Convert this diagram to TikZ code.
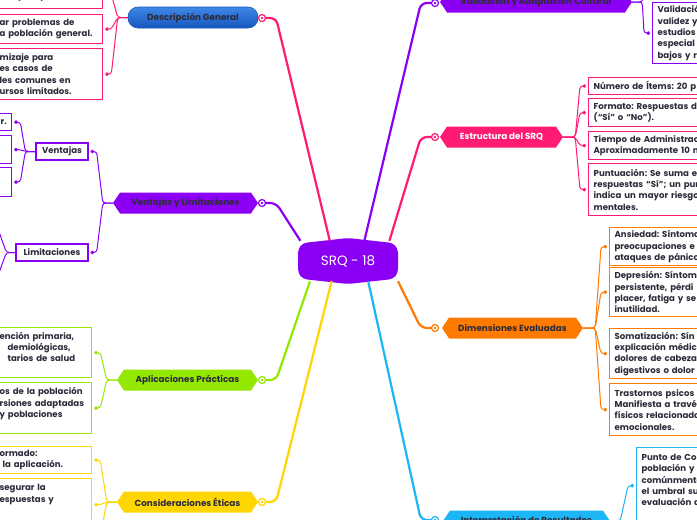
\documentclass[tikz,border=0pt]{standalone}
\usepackage{fontspec}
\setmainfont{Poppins}
\usetikzlibrary{shapes.symbols,arrows.meta}
\definecolor{SRQPurple}{HTML}{8B00F5}
\definecolor{SRQPink}{HTML}{FF1A74}
\definecolor{SRQGreen}{HTML}{94E800}
\definecolor{SRQYellow}{HTML}{FFD600}
\definecolor{SRQOrange}{HTML}{FF7B00}
\definecolor{SRQCyan}{HTML}{1CB5F5}
\definecolor{SRQBlueTop}{HTML}{3F87E6}
\definecolor{SRQBlueBot}{HTML}{1656BE}
\definecolor{SRQText}{HTML}{2B2B3A}
\newcommand{\leaffont}{\fontsize{8.6}{11.3}\selectfont\bfseries\frenchspacing}
\newcommand{\topicfont}{\fontsize{8.8}{10}\selectfont\bfseries}

\tikzset{
  topic/.style={shape=signal, signal to=west and east, signal pointer angle=112,
    fill=#1, minimum height=21pt, inner ysep=0pt, font=\topicfont, text=SRQText},
  leaf/.style={draw=#1, fill=white, line width=1.3pt, align=left, font=\leaffont,
    text=SRQText, inner xsep=5pt, inner ysep=3pt},
  knob/.style={circle, draw=#1, fill=white, line width=1.2pt, minimum size=7pt, inner sep=0pt,
    path picture={\fill[#1] (path picture bounding box.center) circle (1.4pt);}},
  trunk/.style={draw=#1, line width=2.2pt, rounded corners=6pt},
  twig/.style={draw=#1, line width=1pt, rounded corners=3pt,
    -{Circle[length=3.5pt,width=3.5pt]}, shorten >=2pt},
}

\begin{document}
\begin{tikzpicture}[x=1pt,y=-1pt]
\path[use as bounding box] (0,0) rectangle (697,520);
\clip (0,0) rectangle (697,520);
\fill[white] (0,0) rectangle (697,520);

% centre
\fill[SRQPurple, rounded corners=4pt] (298,249) -- (303,243) -- (348,238) -- (393,243) -- (398,249)
  -- (398,273) -- (393,279) -- (348,284) -- (303,279) -- (298,273) -- cycle;
\node[text=white, font=\fontsize{13.5}{15}\selectfont, minimum width=100pt, minimum height=40pt] (srq) at (348,261) {SRQ - 18};

% main topics
\node[rounded corners=10pt, top color=SRQBlueTop, bottom color=SRQBlueBot, draw=SRQBlueBot, line width=.6pt,
  minimum width=130pt, minimum height=21pt, font=\topicfont, text=SRQText] (desc) at (193,17.5) {Descripción General};
\node[topic=SRQPurple, minimum width=145pt] (venlim) at (185.5,203) {Ventajas y Limitaciones};
\node[topic=SRQGreen, minimum width=141pt] (aplic) at (187.5,380) {Aplicaciones Prácticas};
\node[topic=SRQYellow, minimum width=141pt] (etica) at (187.5,502) {Consideraciones Éticas};
\node[topic=SRQPurple, minimum width=192pt] (valid) at (536,2) {Validación y Adaptación Cultural};
\node[topic=SRQPink, minimum width=123pt, text=white] (estr) at (501.5,137) {Estructura del SRQ};
\node[topic=SRQOrange, minimum width=141pt] (dimen) at (512.5,328) {Dimensiones Evaluadas};
\node[topic=SRQCyan, minimum width=167pt] (interp) at (526.5,521) {Interpretación de Resultados};

\node[knob=SRQPink] (kdesc) at (262,18) {};
\node[knob=SRQPurple] (kvenlim) at (262,203) {};
\node[knob=SRQGreen] (kaplic) at (262,380) {};
\node[knob=SRQYellow] (ketica) at (262,502) {};
\node[knob=SRQPurple] (kvalid) at (435,3) {};
\node[knob=SRQPink] (kestr) at (435,137) {};
\node[knob=SRQOrange] (kdimen) at (435,328) {};
\node[knob=SRQCyan] (kinterp) at (435,520) {};

\draw[trunk=SRQPink] (kdesc.east) -- ++(10,0) -- (srq.132);
\draw[trunk=SRQPurple] (kvenlim.east) -- ++(10,0) -- (srq.157);
\draw[trunk=SRQGreen] (kaplic.east) -- ++(10,0) -- (srq.208);
\draw[trunk=SRQYellow] (ketica.east) -- ++(10,0) -- (srq.231);
\draw[trunk=SRQPurple] (kvalid.west) -- ++(-10,0) -- (srq.51);
\draw[trunk=SRQPink] (kestr.west) -- ++(-10,0) -- (srq.26);
\draw[trunk=SRQOrange] (kdimen.west) -- ++(-10,0) -- (srq.338);
\draw[trunk=SRQCyan] (kinterp.west) -- ++(-10,0) -- (srq.315);

% left side leaves
\node[leaf=SRQPink, anchor=south west, text width=98pt, minimum height=28pt] (dg1) at (-6,9) {\mbox{}\\lud (OMS).};
\node[leaf=SRQPink, anchor=north west, text width=98pt, minimum height=29pt] (dg2) at (-6,14) {ar problemas de\\a población general.};
\node[leaf=SRQPink, anchor=north west, text width=98pt, minimum height=51pt] (dg3) at (-6,48) {mizaje para\\es casos de\\les comunes en\\ursos limitados.};

\node[leaf=SRQPurple, minimum width=52pt, minimum height=17pt, align=center] (vent) at (62,151.5) {Ventajas};
\node[leaf=SRQPurple, minimum width=72pt, minimum height=17pt, align=center] (limi) at (52,252.5) {Limitaciones};
\node[leaf=SRQPurple, anchor=north west, text width=7pt, minimum height=17pt] (vt1) at (-6,113) {\hspace*{1pt}r.};
\node[leaf=SRQPurple, anchor=north west, text width=7pt, minimum height=28pt] (vt2) at (-6,135) {};
\node[leaf=SRQPurple, anchor=north west, text width=7pt, minimum height=29pt] (vt3) at (-6,167) {};
\coordinate (lm1) at (-8,212);
\coordinate (lm2) at (-8,292);

\node[leaf=SRQGreen, anchor=north west, text width=87pt, minimum height=50pt] (ap1) at (-6,327) {ención primaria,\\\hspace*{8pt}demiológicas,\\\hspace*{8pt}tarios de salud\\\mbox{}};
\node[leaf=SRQGreen, anchor=north west, text width=87pt, minimum height=51pt] (ap2) at (-6,382) {os de la población\\rsiones adaptadas\\y poblaciones\\\mbox{}};

\node[leaf=SRQYellow, anchor=north west, text width=87pt, minimum height=27pt] (et1) at (-6,446) {ormado:\\\hspace*{3pt}la aplicación.};
\node[leaf=SRQYellow, anchor=north west, text width=87pt, minimum height=52pt] (et2) at (-6,478) {segurar la\\espuestas y\\\mbox{}\\\mbox{}};
\coordinate (et3) at (96,560);

% right side leaves
\node[leaf=SRQPurple, anchor=north west, text width=200pt, minimum height=61pt] (va1) at (652,2) {Validació\\validez y\\estudios\\especial\\bajos y r};
\coordinate (vaup) at (652,-30);

\node[leaf=SRQPink, anchor=north west, text width=200pt, minimum height=16pt] (es1) at (588,77) {Número de Ítems: 20 p};
\node[leaf=SRQPink, anchor=north west, text width=200pt, minimum height=28pt] (es2) at (588,98) {Formato: Respuestas d\\(“Sí” o “No”).};
\node[leaf=SRQPink, anchor=north west, text width=200pt, minimum height=28pt] (es3) at (588,131) {Tiempo de Administrac\\Aproximadamente 10 m};
\node[leaf=SRQPink, anchor=north west, text width=200pt, minimum height=52pt] (es4) at (588,163) {Puntuación: Se suma e\\respuestas “Sí”; un pun\\indica un mayor riesgo\\mentales.};

\node[leaf=SRQOrange, anchor=north west, text width=200pt, minimum height=36pt] (di1) at (609,227) {Ansiedad: Síntoma\\preocupaciones e\\ataques de pánico};
\node[leaf=SRQOrange, anchor=north west, text width=200pt, minimum height=49pt] (di2) at (609,267) {Depresión: Síntom\\persistente, pérdi\\placer, fatiga y se\\inutilidad.};
\node[leaf=SRQOrange, anchor=north west, text width=200pt, minimum height=50pt] (di3) at (609,328) {Somatización: Sín\\explicación médic\\dolores de cabeza\\digestivos o dolor};
\node[leaf=SRQOrange, anchor=north west, text width=200pt, minimum height=52pt] (di4) at (609,383) {Trastornos psicos\\Manifiesta a travé\\físicos relacionado\\emocionales.};

\node[leaf=SRQCyan, anchor=north west, text width=200pt, minimum height=76pt] (ip1) at (636,447) {Punto de Co\\población y\\comúnmente\\el umbral su\\evaluación d\\\mbox{}};

% branches
\draw[twig=SRQPink] (desc.west) -- ++(-10,0) -- ([xshift=8pt]dg1.east) -- (dg1.east);
\draw[twig=SRQPink] (desc.west) -- ++(-10,0) -- ([xshift=8pt]dg2.east) -- (dg2.east);
\draw[twig=SRQPink] (desc.west) -- ++(-10,0) -- ([xshift=8pt]dg3.east) -- (dg3.east);

\draw[twig=SRQPurple] (venlim.west) -- ++(-10,0) -- ([xshift=8pt]vent.east) -- (vent.east);
\draw[twig=SRQPurple] (venlim.west) -- ++(-10,0) -- ([xshift=8pt]limi.east) -- (limi.east);
\draw[twig=SRQPurple] (vent.west) -- ++(-10,0) -- ([xshift=8pt]vt1.east) -- (vt1.east);
\draw[twig=SRQPurple] (vent.west) -- ++(-10,0) -- ([xshift=8pt]vt2.east) -- (vt2.east);
\draw[twig=SRQPurple] (vent.west) -- ++(-10,0) -- ([xshift=8pt]vt3.east) -- (vt3.east);
\draw[twig=SRQPurple] (limi.west) -- ++(-9,0) -- (lm1);
\draw[twig=SRQPurple] (limi.west) -- ++(-9,0) -- (lm2);

\draw[twig=SRQGreen] (aplic.west) -- ++(-10,0) -- ([xshift=8pt]ap1.east) -- (ap1.east);
\draw[twig=SRQGreen] (aplic.west) -- ++(-10,0) -- ([xshift=8pt]ap2.east) -- (ap2.east);

\draw[twig=SRQYellow] (etica.west) -- ++(-10,0) -- ([xshift=8pt]et1.east) -- (et1.east);
\draw[twig=SRQYellow] (etica.west) -- ++(-10,0) -- ([xshift=8pt]et2.east) -- (et2.east);
\draw[twig=SRQYellow] (etica.west) -- ++(-10,0) -- (et3);

\draw[twig=SRQPurple] (valid.east) -- ++(10,0) -- ([xshift=-8pt]va1.west) -- (va1.west);
\draw[twig=SRQPurple] (valid.east) -- ++(10,0) -- (vaup);

\draw[twig=SRQPink] (estr.east) -- ++(12,0) -- ([xshift=-8pt]es1.west) -- (es1.west);
\draw[twig=SRQPink] (estr.east) -- ++(12,0) -- ([xshift=-8pt]es2.west) -- (es2.west);
\draw[twig=SRQPink] (estr.east) -- ++(12,0) -- ([xshift=-8pt]es3.west) -- (es3.west);
\draw[twig=SRQPink] (estr.east) -- ++(12,0) -- ([xshift=-8pt]es4.west) -- (es4.west);

\draw[twig=SRQOrange] (dimen.east) -- ++(12,0) -- ([xshift=-8pt]di1.west) -- (di1.west);
\draw[twig=SRQOrange] (dimen.east) -- ++(12,0) -- ([xshift=-8pt]di2.west) -- (di2.west);
\draw[twig=SRQOrange] (dimen.east) -- ++(12,0) -- ([xshift=-8pt]di3.west) -- (di3.west);
\draw[twig=SRQOrange] (dimen.east) -- ++(12,0) -- ([xshift=-8pt]di4.west) -- (di4.west);

\draw[twig=SRQCyan] (interp.east) -- ++(10,0) -- ([xshift=-8pt]ip1.west) -- (ip1.west);
\end{tikzpicture}
\end{document}
